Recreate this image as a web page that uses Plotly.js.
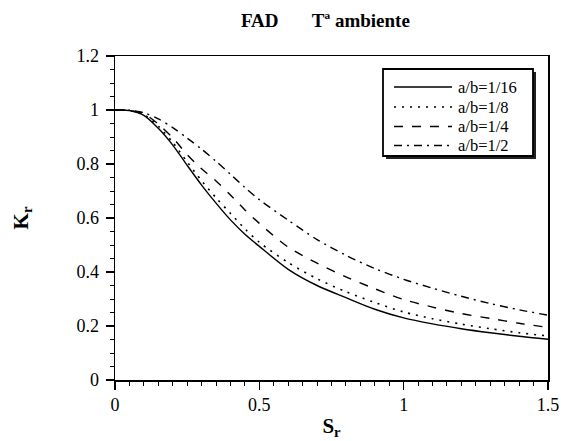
<!DOCTYPE html>
<html>
<head>
<meta charset="utf-8">
<script src="https://cdn.plot.ly/plotly-3.0.1.min.js"></script>
<style>html,body{margin:0;padding:0;background:#fff;}#chart{width:561px;height:441px;}</style>
</head>
<body>
<div id="chart"></div>
<script>
// ---- data ----
const sr = [0, 0.05, 0.1, 0.15, 0.2, 0.25, 0.3, 0.35, 0.4, 0.45, 0.5, 0.6, 0.7, 0.8, 0.9, 1.0, 1.1, 1.2, 1.3, 1.4, 1.5];
const kr_1_16 = [1, 0.998, 0.98, 0.932, 0.87, 0.795, 0.722, 0.655, 0.593, 0.54, 0.495, 0.41, 0.35, 0.305, 0.262, 0.23, 0.208, 0.19, 0.175, 0.162, 0.151];
const kr_1_8  = [1, 0.998, 0.982, 0.94, 0.88, 0.808, 0.738, 0.675, 0.617, 0.56, 0.51, 0.435, 0.375, 0.327, 0.287, 0.252, 0.227, 0.207, 0.19, 0.175, 0.163];
const kr_1_4  = [1, 0.998, 0.986, 0.948, 0.897, 0.835, 0.782, 0.737, 0.685, 0.63, 0.58, 0.492, 0.433, 0.382, 0.338, 0.298, 0.27, 0.246, 0.228, 0.21, 0.195];
const kr_1_2  = [1, 0.999, 0.99, 0.967, 0.935, 0.896, 0.855, 0.81, 0.762, 0.713, 0.668, 0.592, 0.52, 0.462, 0.413, 0.373, 0.34, 0.31, 0.283, 0.26, 0.24];
const seriesNames = ["a/b=1/16", "a/b=1/8", "a/b=1/4", "a/b=1/2"];
const seriesVals = [kr_1_16, kr_1_8, kr_1_4, kr_1_2];
const xTicks = [0, 0.5, 1, 1.5];
const xTickText = ["0", "0.5", "1", "1.5"];
const yTicks = [0, 0.2, 0.4, 0.6, 0.8, 1, 1.2];
const yTickText = ["0", "0.2", "0.4", "0.6", "0.8", "1", "1.2"];

// ---- styles ----
const dashes = ["solid", "2px,6px", "9px,9px", "8px,5px,2px,5px"];
const widths = [1.4, 1.6, 1.4, 1.4];
const FONT = "'Liberation Serif', 'Times New Roman', serif";

const traces = seriesVals.map((v, i) => ({
  x: sr, y: v, type: "scatter", mode: "lines", name: seriesNames[i],
  line: {color: "#000", width: widths[i], dash: dashes[i], shape: "spline", smoothing: 0.8},
  showlegend: false, hoverinfo: "skip"
}));

// plot area in pixels
const L = 115, R = 548, T = 56, B = 380;
const px2x = p => (p - L) / (R - L);
const px2y = p => (B - p) / (B - T);

// custom legend (box with shadow, line samples, labels)
const shapes = [];
const annotations = [];
const bx0 = 383, bx1 = 533, by0 = 69, by1 = 156;
shapes.push({type: "rect", xref: "paper", yref: "paper", x0: px2x(bx0 + 3), x1: px2x(bx1 + 3), y0: px2y(by0 + 3), y1: px2y(by1 + 3), fillcolor: "#222", line: {width: 0}, layer: "above"});
shapes.push({type: "rect", xref: "paper", yref: "paper", x0: px2x(bx0), x1: px2x(bx1), y0: px2y(by0), y1: px2y(by1), fillcolor: "#fff", line: {color: "#000", width: 1.8}, layer: "above"});
const rowY = [87, 107, 126.5, 145.5];
seriesNames.forEach((n, i) => {
  shapes.push({type: "line", xref: "paper", yref: "paper", x0: px2x(394), x1: px2x(452), y0: px2y(rowY[i]), y1: px2y(rowY[i]), line: {color: "#000", width: widths[i], dash: dashes[i]}, layer: "above"});
  annotations.push({xref: "paper", yref: "paper", x: px2x(456), y: px2y(rowY[i]), xanchor: "left", yanchor: "middle", text: n, showarrow: false, font: {family: FONT, size: 16.5, color: "#000"}});
});

const layout = {
  width: 561, height: 441,
  margin: {l: L, r: 561 - R, t: T, b: 441 - B, pad: 0},
  paper_bgcolor: "#fff", plot_bgcolor: "#fff",
  font: {family: FONT, size: 18, color: "#000"},
  title: {text: "<b>FAD\u00A0\u00A0\u00A0\u00A0\u00A0\u00A0\u00A0Tª ambiente</b>", font: {family: FONT, size: 19, color: "#000"}, x: 0.58, xanchor: "center", y: 1 - 20 / 441, yanchor: "middle", xref: "container", yref: "container"},
  xaxis: {
    range: [0, 1.5], tickmode: "array", tickvals: xTicks, ticktext: xTickText,
    ticks: "outside", ticklen: 8, tickwidth: 1.2, tickcolor: "#000",
    minor: {dtick: 0.05, ticks: "outside", ticklen: 4, tickwidth: 1, tickcolor: "#000", showgrid: false},
    showline: true, linecolor: "#000", linewidth: 1.5, mirror: true,
    showgrid: false, zeroline: false, tickfont: {family: FONT, size: 18, color: "#000"},
    title: {text: "<b>S<sub>r</sub></b>", font: {family: FONT, size: 21, color: "#000"}, standoff: 4}
  },
  yaxis: {
    range: [0, 1.2], tickmode: "array", tickvals: yTicks, ticktext: yTickText,
    ticks: "outside", ticklen: 8, tickwidth: 1.2, tickcolor: "#000",
    minor: {dtick: 0.05, ticks: "outside", ticklen: 4, tickwidth: 1, tickcolor: "#000", showgrid: false},
    showline: true, linecolor: "#000", linewidth: 1.5, mirror: true,
    showgrid: false, zeroline: false, tickfont: {family: FONT, size: 18, color: "#000"},
    ticklabelstandoff: 3,
    title: {text: "<b>K<sub>r</sub></b>", font: {family: FONT, size: 21, color: "#000"}, standoff: 42}
  },
  shapes: shapes,
  annotations: annotations,
  showlegend: false
};

Plotly.newPlot("chart", traces, layout, {displayModeBar: false, staticPlot: true});
</script>
</body>
</html>
